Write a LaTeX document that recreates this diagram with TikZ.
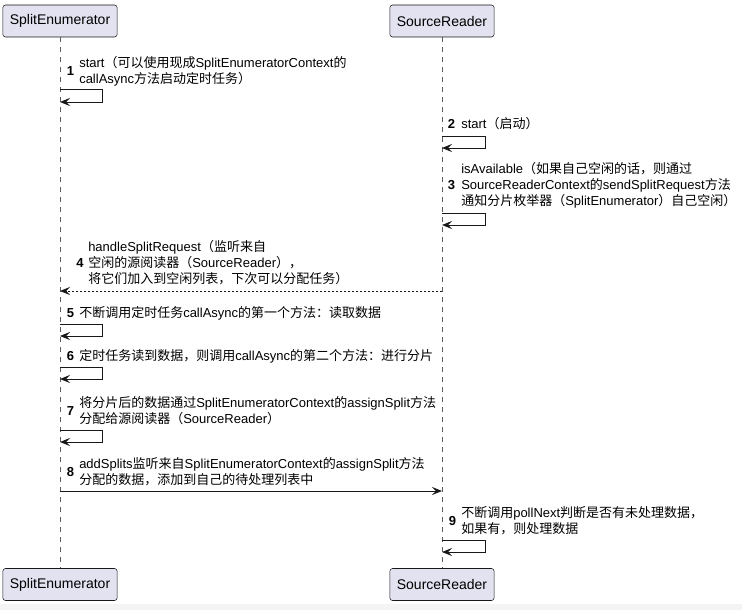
\documentclass[tikz,border=0pt]{standalone}
\usepackage{fontspec}
\setmainfont{Liberation Sans}
\newfontfamily\cjk{Noto Sans CJK SC}
\usetikzlibrary{arrows.meta}
\newcommand{\zh}[1]{{\cjk #1}}
\definecolor{partfill}{HTML}{E2E2F0}
\definecolor{ink}{HTML}{181818}
\definecolor{band}{HTML}{F4F4F4}

\begin{document}
\begin{tikzpicture}[x=0.75pt,y=-0.75pt,
  participant/.style={draw=ink, fill=partfill, rounded corners=2pt, line width=0.4pt,
    minimum height=24pt, inner xsep=5.25pt, inner ysep=0pt,
    font=\fontsize{10.5}{12}\selectfont},
  lifeline/.style={draw=ink!70, line width=0.4pt, dash pattern=on 3.75pt off 3.75pt},
  msg/.style={draw=ink, line width=0.75pt,
    -{Stealth[length=7.5pt,width=6pt,inset=3pt]}},
  reply/.style={msg, dash pattern=on 1.5pt off 1.5pt},
  msgtext/.style={anchor=west, inner sep=0pt, align=left,
    font=\fontsize{9.75}{12}\selectfont},
  seqno/.style={inner sep=0pt, font=\fontsize{9.75}{12}\selectfont\bfseries}]

\useasboundingbox (0,0) rectangle (742,610);
\fill[white] (0,0) rectangle (742,610);
\fill[band] (0,604) rectangle (742,610);

% participants, head and foot
\node[participant] (seTop) at (60,21) {SplitEnumerator};
\node[participant] (srTop) at (442,21) {SourceReader};
\node[participant] (seBot) at (60,584.5) {SplitEnumerator};
\node[participant] (srBot) at (442,584.5) {SourceReader};

% lifelines
\draw[lifeline] (seTop.south) -- (seBot.north);
\draw[lifeline] (srTop.south) -- (srBot.north);

% 1: self call on SplitEnumerator
\node[seqno] (n1) at (70.5,71) {1};
\node[msgtext] (t1) at (79,71) {start\zh{（可以使用现成}SplitEnumeratorContext\zh{的}\\callAsync\zh{方法启动定时任务）}};
\coordinate (s1a) at (seTop.south |- 0,90);
\coordinate (s1b) at (seTop.south |- 0,102);
\draw[msg] (s1a) -- ++(42,0) |- (s1b);

% 2: self call on SourceReader
\node[seqno] (n2) at (451.5,124) {2};
\node[msgtext] (t2) at (461,124) {start\zh{（启动）}};
\coordinate (s2a) at (srTop.south |- 0,136);
\coordinate (s2b) at (srTop.south |- 0,148);
\draw[msg] (s2a) -- ++(43,0) |- (s2b);

% 3: self call on SourceReader
\node[seqno] (n3) at (451.5,185.5) {3};
\node[msgtext] (t3) at (461,185.5) {isAvailable\zh{（如果自己空闲的话，则通过}\\SourceReaderContext\zh{的}sendSplitRequest\zh{方法}\\\zh{通知分片枚举器（}SplitEnumerator\zh{）自己空闲）}};
\coordinate (s3a) at (srTop.south |- 0,213);
\coordinate (s3b) at (srTop.south |- 0,225);
\draw[msg] (s3a) -- ++(43,0) |- (s3b);

% 4: SourceReader -> SplitEnumerator (dashed)
\node[seqno] (n4) at (80,263) {4};
\node[msgtext] (t4) at (88,263) {handleSplitRequest\zh{（监听来自}\\\zh{空闲的源阅读器（}SourceReader\zh{），}\\\zh{将它们加入到空闲列表，下次可以分配任务）}};
\coordinate (m4a) at (srTop.south |- 0,291);
\coordinate (m4b) at (seTop.south |- 0,291);
\draw[reply] (m4a) -- (m4b);

% 5: self call on SplitEnumerator
\node[seqno] (n5) at (70.5,313) {5};
\node[msgtext] (t5) at (79,313) {\zh{不断调用定时任务}callAsync\zh{的第一个方法：读取数据}};
\coordinate (s5a) at (seTop.south |- 0,324);
\coordinate (s5b) at (seTop.south |- 0,336);
\draw[msg] (s5a) -- ++(42,0) |- (s5b);

% 6: self call on SplitEnumerator
\node[seqno] (n6) at (70.5,356) {6};
\node[msgtext] (t6) at (79,356) {\zh{定时任务读到数据，则调用}callAsync\zh{的第二个方法：进行分片}};
\coordinate (s6a) at (seTop.south |- 0,367);
\coordinate (s6b) at (seTop.south |- 0,379);
\draw[msg] (s6a) -- ++(42,0) |- (s6b);

% 7: self call on SplitEnumerator
\node[seqno] (n7) at (70.5,411) {7};
\node[msgtext] (t7) at (79,411) {\zh{将分片后的数据通过}SplitEnumeratorContext\zh{的}assignSplit\zh{方法}\\\zh{分配给源阅读器（}SourceReader\zh{）}};
\coordinate (s7a) at (seTop.south |- 0,430);
\coordinate (s7b) at (seTop.south |- 0,442);
\draw[msg] (s7a) -- ++(42,0) |- (s7b);

% 8: SplitEnumerator -> SourceReader
\node[seqno] (n8) at (70.5,472) {8};
\node[msgtext] (t8) at (79,472) {addSplits\zh{监听来自}SplitEnumeratorContext\zh{的}assignSplit\zh{方法}\\\zh{分配的数据，添加到自己的待处理列表中}};
\coordinate (m8a) at (seTop.south |- 0,491);
\coordinate (m8b) at (srTop.south |- 0,491);
\draw[msg] (m8a) -- (m8b);

% 9: self call on SourceReader
\node[seqno] (n9) at (452.5,521) {9};
\node[msgtext] (t9) at (461,521) {\zh{不断调用}pollNext\zh{判断是否有未处理数据，}\\\zh{如果有，则处理数据}};
\coordinate (s9a) at (srTop.south |- 0,540);
\coordinate (s9b) at (srTop.south |- 0,552);
\draw[msg] (s9a) -- ++(43,0) |- (s9b);

\end{tikzpicture}
\end{document}
